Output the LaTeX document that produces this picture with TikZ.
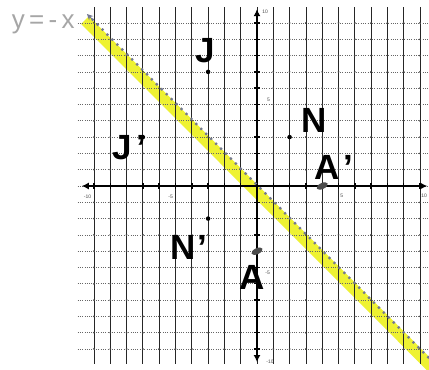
\documentclass[tikz,border=0pt]{standalone}
\usepackage{fontspec}
\setmainfont{Liberation Sans}
\usetikzlibrary{arrows.meta,shapes.geometric,calc}
\definecolor{hl}{RGB}{238,242,50}
\definecolor{dotline}{RGB}{115,120,145}
\begin{document}
\begin{tikzpicture}[x=16.3pt,y=16.3pt,
  vgrid/.style={black!85, line width=0.8pt, dash pattern=on 1.2pt off 0.8pt},
  hgrid/.style={black!60, line width=0.65pt, dash pattern=on 1pt off 1.3pt},
  axis/.style={line width=2.4pt, {Latex[length=7pt,width=7pt]}-{Latex[length=7pt,width=7pt]}},
  tickmark/.style={line width=1.4pt},
  pt/.style={circle, fill=black, inner sep=0pt, minimum size=4.5pt},
  blob/.style={ellipse, fill=black!70, inner sep=0pt, minimum width=12pt, minimum height=6pt, rotate=25},
  lbl/.style={font=\fontsize{35}{35}\selectfont\bfseries, anchor=base west, inner sep=0pt},
  axl/.style={font=\fontsize{5}{5}\selectfont, text=black!70, inner sep=0pt},
  eqn/.style={font=\fontsize{26}{26}\selectfont, text=black!35, anchor=base west, inner sep=0pt}
]
\clip (-15.767,-11.288) rectangle (10.552,11.411);
\fill[white] (-15.767,-11.288) rectangle (10.552,11.411);
% highlighter
\draw[hl, line width=11pt] (-10.55,10.18) -- (10.8,-11.2);
% grid
\foreach \i in {-10,...,10} {
  \draw[vgrid] (\i,-10.9) -- (\i,11);
  \draw[hgrid] (-11,\i) -- (10.6,\i);
}
\foreach \i in {-10,...,10} \foreach \j in {-10,...,10} \fill[black!75] (\i,\j) circle (1pt);
% axes
\draw[axis] (-10.75,0) -- (10.45,0);
\draw[axis] (0,-10.8) -- (0,10.85);
\foreach \i in {-10,...,-1,1,2,...,10} {
  \draw[tickmark] (\i,-0.18) -- (\i,0.18);
  \draw[tickmark] (-0.18,\i) -- (0.2,\i);
}
% axis numbers
\node[axl] (ly10) at (0.5,10.7) {10};
\node[axl] (ly5) at (0.7,5.3) {5};
\node[axl] (lx5) at (5.2,-0.6) {5};
\node[axl] (lx10) at (10.25,-0.6) {10};
\node[axl] (lxm10) at (-10.4,-0.65) {-10};
\node[axl] (lxm5) at (-5.3,-0.65) {-5};
\node[axl] (lym5) at (0.65,-5.3) {-5};
\node[axl] (lym10) at (0.8,-10.8) {-10};
% line y = -x
\coordinate (ls) at (-10.43,10.55);
\coordinate (le) at (10.8,-10.8);
\coordinate (lt) at (-10.13,10.25);
\draw[dotline, line width=2.3pt, dash pattern=on 2.2pt off 4.8pt] (lt) -- (le);
\draw[dotline, line width=1pt, -{Stealth[length=6pt,width=6pt]}] (lt) -- (ls);
\node[eqn] (eq) at (-15.05,9.69) {y\,=\,-\,x};
% points
\node[pt] (J) at (-3,7) {};
\node[pt] (Jp) at (-7,3) {};
\node[pt] (N) at (2,3) {};
\node[pt] (Np) at (-3,-2) {};
\node[blob] (A) at (0,-4) {};
\node[blob] (Ap) at (4,0) {};
% labels
\node[lbl] (Jl) at (-3.80,7.55) {J};
\node[lbl] (Jpl) at (-8.90,1.60) {J\kern5pt'};
\node[lbl] (Nl) at (2.70,3.31) {N};
\node[lbl] (Npl) at (-5.34,-4.54) {N\kern2pt'};
\node[lbl] (Al) at (-1.10,-6.38) {A};
\node[lbl] (Apl) at (3.50,0.37) {A\kern4pt'};
\end{tikzpicture}
\end{document}
